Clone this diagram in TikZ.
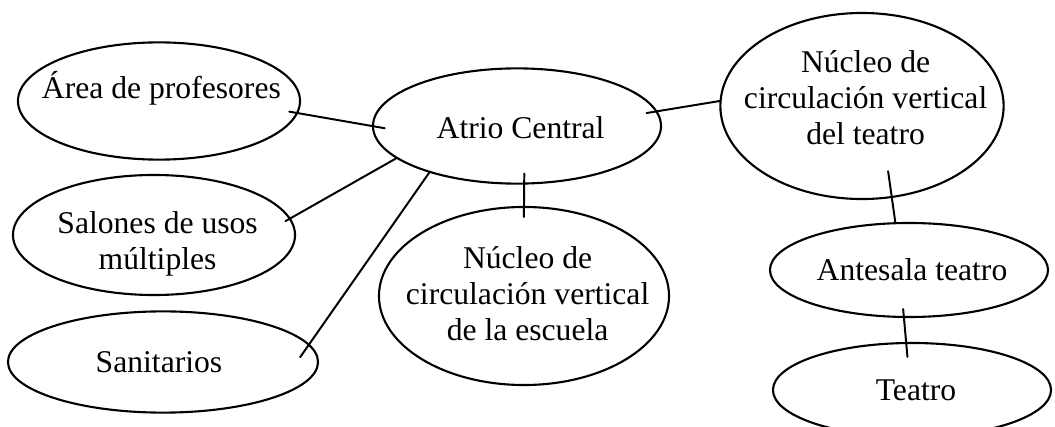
\documentclass[tikz,border=0pt]{standalone}
\usepackage{fontspec}
\setmainfont{Liberation Serif}
\usetikzlibrary{shapes.geometric}

\begin{document}
\begin{tikzpicture}[x=0.025cm, y=-0.025cm, line cap=round,
  espacio/.style={draw, ellipse, line width=1.5pt, inner sep=0pt},
  enlace/.style={line width=1.4pt},
  every label/.style={font=\fontsize{22.5}{25.5}\selectfont, align=center}]
  \useasboundingbox (0,0) rectangle (1055,427);
  % espacios de la escuela
  \node[espacio, minimum width=7.05cm, minimum height=2.93cm, label={[xshift=0.6mm, yshift=3.25mm]center:Área de profesores}] (area) at (159,101) {};
  \node[espacio, minimum width=7.05cm, minimum height=3.0cm, label={[xshift=0.9mm, yshift=-2.25mm]center:Salones de usos\\múltiples}] (salones) at (154,235) {};
  \node[espacio, minimum width=7.75cm, minimum height=2.53cm, label={[xshift=-1mm]center:Sanitarios}] (sanitarios) at (163,362) {};
  \node[espacio, minimum width=7.2cm, minimum height=2.88cm, label={[xshift=0.9mm, yshift=-0.5mm]center:Atrio Central}] (atrio) at (517,126) {};
  \node[espacio, minimum width=7.25cm, minimum height=4.45cm, label={[xshift=0.9mm, yshift=0.5mm]center:Núcleo de\\circulación vertical\\de la escuela}] (escuela) at (524,296) {};
  % espacios del teatro
  \node[espacio, minimum width=7.08cm, minimum height=4.65cm, label={[xshift=0.9mm, yshift=2mm]center:Núcleo de\\circulación vertical\\del teatro}] (nteatro) at (862,106) {};
  \node[espacio, minimum width=6.95cm, minimum height=2.35cm, label={[xshift=0.75mm]center:Antesala teatro}] (antesala) at (909,270) {};
  \node[espacio, minimum width=6.95cm, minimum height=2.35cm, label={[xshift=1mm]center:Teatro}] (teatro) at (912,390) {};
  % enlaces
  \foreach \a/\b/\s/\e in {area.-5/atrio.180/2.25mm/3.25mm, salones.7/atrio.195/1.5mm/0mm,
      sanitarios.7/atrio.208/4mm/0mm, atrio.-83/escuela.north/2.75mm/2.75mm,
      atrio.6/nteatro.178/2.75mm/0mm, nteatro.-72/antesala.106/6.75mm/0mm,
      antesala.-96/teatro.97/2.25mm/3.75mm}
    \draw[enlace, shorten <=-\s, shorten >=-\e] (\a) -- (\b);
\end{tikzpicture}
\end{document}
